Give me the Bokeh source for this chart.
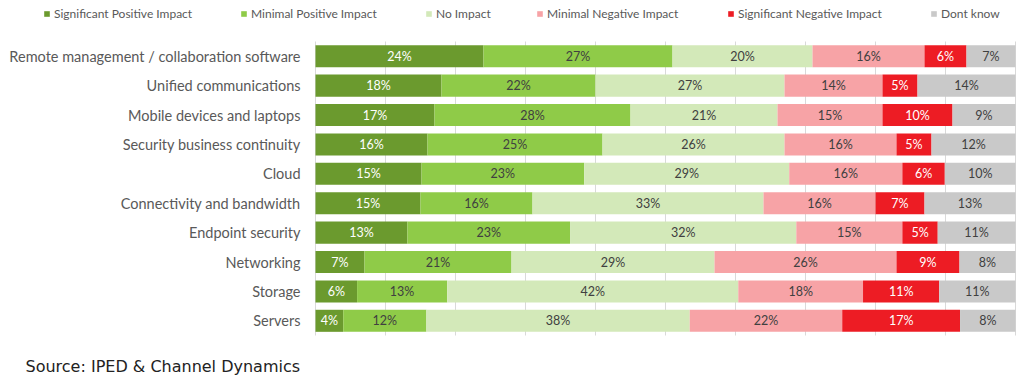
from bokeh.plotting import figure
from bokeh.models import ColumnDataSource, Range1d, Legend, LegendItem, Label
from bokeh.core.properties import value
from bokeh.embed import file_html
from bokeh.resources import INLINE

categories = ["Remote management / collaboration software", "Unified communications",
              "Mobile devices and laptops", "Security business continuity", "Cloud",
              "Connectivity and bandwidth", "Endpoint security", "Networking", "Storage", "Servers"]
series = ["Significant Positive Impact", "Minimal Positive Impact", "No Impact",
          "Minimal Negative Impact", "Significant Negative Impact", "Dont know"]
sig_pos = [24, 18, 17, 16, 15, 15, 13, 7, 6, 4]
min_pos = [27, 22, 28, 25, 23, 16, 23, 21, 13, 12]
no_imp = [20, 27, 21, 26, 29, 33, 32, 29, 42, 38]
min_neg = [16, 14, 15, 16, 16, 16, 15, 26, 18, 22]
sig_neg = [6, 5, 10, 5, 6, 7, 5, 9, 11, 17]
dont_know = [7, 14, 9, 12, 10, 13, 11, 8, 11, 8]
grid_ticks = [0, 10, 20, 30, 40, 50, 60, 70, 80, 90, 100]
colors = ["#6B9A2E", "#8FCB48", "#D3E9B9", "#F7A3A6", "#ED1C24", "#C9C9C9"]
label_colors = ["white", "#404040", "#404040", "#404040", "white", "#404040"]
source_text = "Source: IPED & Channel Dynamics"

values = [sig_pos, min_pos, no_imp, min_neg, sig_neg, dont_know]
keys = ["s%d" % i for i in range(len(series))]
n = len(categories)
totals = [sum(v[r] for v in values) for r in range(n)]
data = {"cat": categories, "y": [n - 1 - r for r in range(n)]}
for k, v in zip(keys, values):
    data[k] = [v[r] / totals[r] * 100 for r in range(n)]
src = ColumnDataSource(data)

# layout (pixels)
W, H = 1020, 376
FL, FR = 315, 1015          # bar area left/right on page
ROW_TOP, ROW_BOT = 41, 335  # bar area top/bottom on page
ppx = (FR - FL) / 100.0
ppy = (ROW_BOT - ROW_TOP) / n
x_range = Range1d(-FL / ppx, (W - FL) / ppx)
y_range = Range1d(-0.5 - (H - ROW_BOT) / ppy, n - 0.5 + ROW_TOP / ppy)

p = figure(width=W, height=H, output_backend="svg", toolbar_location=None,
           x_axis_type=None, y_axis_type=None, x_range=x_range, y_range=y_range,
           min_border=0)
p.outline_line_color = None
p.xgrid.visible = False
p.ygrid.visible = False

# vertical gridlines over the bar area
p.segment(x0=grid_ticks, x1=grid_ticks, y0=[-0.5] * len(grid_ticks),
          y1=[n - 0.5] * len(grid_ticks), line_color="#D9D9D9", line_width=1)

renderers = p.hbar_stack(keys, y="y", height=0.75, color=colors, line_color=None, source=src)

# category labels (left of the axis)
p.text(x=0, y="y", text="cat", source=src, x_offset=-15, text_align="right",
       text_baseline="middle", text_font=value("Lato"), text_font_size="14.5px",
       text_color="#595959")

# data labels
lx, ly, lt, lc = [], [], [], []
for r in range(n):
    left = 0.0
    for i, k in enumerate(keys):
        w = data[k][r]
        lx.append(left + w / 2)
        ly.append(data["y"][r])
        lt.append("%d%%" % values[i][r])
        lc.append(label_colors[i])
        left += w
lsrc = ColumnDataSource(dict(x=lx, y=ly, t=lt, c=lc))
p.text(x="x", y="y", text="t", text_color="c", source=lsrc, text_align="center",
       text_baseline="middle", text_font=value("Lato"), text_font_size="12.5px")

# legend: one per item, placed like the original
leg_x = [43, 240, 425, 536, 727, 930]
for i, (name, rr) in enumerate(zip(series, renderers)):
    lg = Legend(items=[LegendItem(label=name, renderers=[rr])],
                location=(leg_x[i], H - 21), orientation="horizontal",
                padding=0, margin=0, border_line_color=None, background_fill_alpha=0,
                glyph_width=7, glyph_height=7, label_height=14, label_standoff=4,
                label_text_font="Lato", label_text_font_size="12px", label_text_color="#595959")
    p.add_layout(lg, "center")

p.add_layout(Label(x=25, y=H - 366, x_units="screen", y_units="screen",
                   text=source_text, text_font="DejaVu Sans", text_baseline="alphabetic",
                   text_font_size="16px", text_color="#222222"))

open("out.html", "w").write(file_html(p, INLINE))
